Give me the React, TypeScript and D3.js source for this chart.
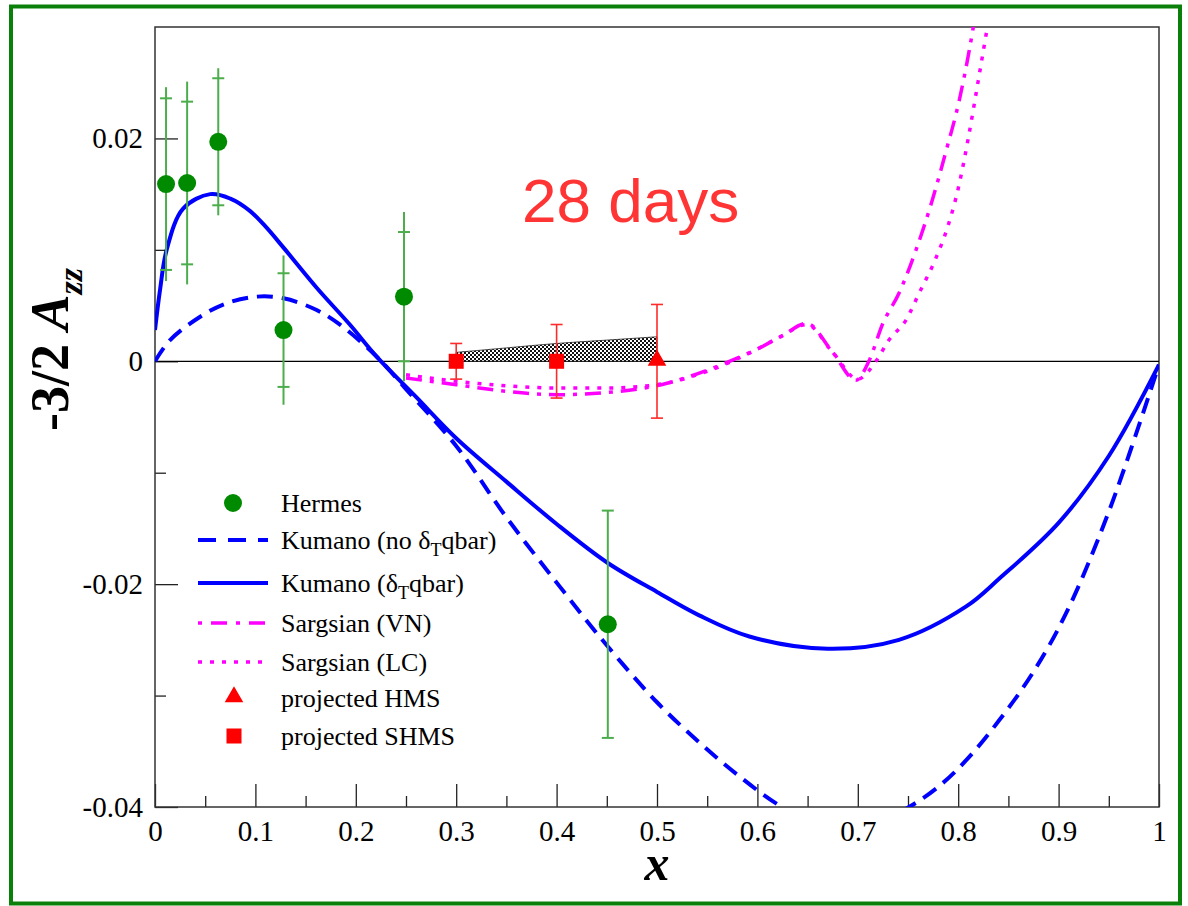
import React, { useEffect, useRef } from 'react'
import * as d3 from 'd3'

// Hermes data
const hermesX = [0.011, 0.032, 0.063, 0.128, 0.248, 0.451]
const hermesY = [0.0159, 0.016, 0.0197, 0.0028, 0.0058, -0.0236]
const hermesStat = [0.0077, 0.0073, 0.0057, 0.0051, 0.0058, 0.0102]
const hermesTot = [0.0087, 0.0091, 0.0066, 0.0067, 0.0076, 0.0102]

// projected points
const shmsX = [0.3, 0.4]
const shmsY = [0, 0]
const shmsErr = [0.0016, 0.0033]
const hmsX = [0.5]
const hmsY = [0]
const hmsErr = [0.0051]

// shaded band
const bandX = [0.3, 0.35, 0.4, 0.45, 0.5]
const bandTop = [0.0008, 0.0012, 0.0016, 0.0019, 0.0022]

// Kumano (delta_T qbar)
const kumX = [0, 0.005, 0.0116, 0.028, 0.055, 0.075, 0.0945, 0.11, 0.128, 0.161, 0.194, 0.221, 0.26, 0.3, 0.35, 0.4, 0.451, 0.5, 0.542, 0.592, 0.67, 0.741, 0.808, 0.841, 0.9, 0.95, 1.0]
const kumY = [0.0028, 0.0064, 0.01, 0.0137, 0.015, 0.0146, 0.0135, 0.0121, 0.0102, 0.0066, 0.0033, 0.0004, -0.0032, -0.0069, -0.0108, -0.0146, -0.0181, -0.0207, -0.0228, -0.0247, -0.0258, -0.025, -0.022, -0.0195, -0.0145, -0.0085, -0.0003]

// Kumano (no delta_T qbar)
const kumNoX = [0, 0.015, 0.045, 0.071, 0.101, 0.128, 0.161, 0.187, 0.221, 0.25, 0.3, 0.35, 0.403, 0.451, 0.5, 0.542, 0.58, 0.619, 0.65, 0.685, 0.72, 0.751, 0.78, 0.808, 0.841, 0.874, 0.907, 0.95, 1.0]
const kumNoY = [0, 0.0019, 0.004, 0.0052, 0.0058, 0.00565, 0.0046, 0.0031, 0.0004, -0.0025, -0.0076, -0.014, -0.0202, -0.0256, -0.0306, -0.0342, -0.0371, -0.0397, -0.0412, -0.042, -0.0414, -0.04, -0.0382, -0.0358, -0.0322, -0.028, -0.0227, -0.0135, -0.0003]

// Sargsian (VN)
const vnX = [0.25, 0.3, 0.35, 0.4, 0.45, 0.509, 0.55, 0.575, 0.6, 0.625, 0.649, 0.675, 0.698, 0.711, 0.725, 0.741, 0.758, 0.774, 0.788, 0.801, 0.811, 0.816]
const vnY = [-0.0015, -0.0021, -0.0027, -0.003, -0.0028, -0.002, -0.0008, 0.0001, 0.0011, 0.0023, 0.0034, 0.0008, -0.0017, 0, 0.0034, 0.0061, 0.01, 0.0144, 0.0189, 0.0234, 0.0279, 0.0305]

// Sargsian (LC)
const lcX = [0.25, 0.3, 0.35, 0.4, 0.45, 0.5, 0.55, 0.6, 0.625, 0.649, 0.675, 0.7, 0.718, 0.731, 0.748, 0.761, 0.778, 0.79, 0.8, 0.81, 0.82, 0.83]
const lcY = [-0.0012, -0.0018, -0.0022, -0.0024, -0.0024, -0.0021, -0.0009, 0.0011, 0.0023, 0.0033, 0.0008, -0.0016, 0, 0.0019, 0.0037, 0.0061, 0.0093, 0.0122, 0.0155, 0.02, 0.0252, 0.0305]

const xMajor = [0, 0.1, 0.2, 0.3, 0.4, 0.5, 0.6, 0.7, 0.8, 0.9, 1]
const xLabels = ['0', '0.1', '0.2', '0.3', '0.4', '0.5', '0.6', '0.7', '0.8', '0.9', '1']
const xMinor = [0.05, 0.15, 0.25, 0.35, 0.45, 0.55, 0.65, 0.75, 0.85, 0.95]
const yMajor = [-0.04, -0.02, 0, 0.02]
const yLabels = ['-0.04', '-0.02', '0', '0.02']
const yMinor = [-0.03, -0.01, 0.01]

const serif = "'Liberation Serif', 'Times New Roman', Times, serif"

export default function App() {
  const ref = useRef<SVGSVGElement>(null)

  useEffect(() => {
    const svg = d3.select(ref.current)
    svg.selectAll('*').remove()

    const left = 155, right = 1159, top = 27, bottom = 807
    const x = d3.scaleLinear().domain([0, 1]).range([left, right])
    const y = d3.scaleLinear().domain([-0.04, 0.03]).range([bottom, top])

    // outer green frame
    svg.append('rect')
      .attr('x', 11).attr('y', 6.5).attr('width', 1169).attr('height', 897)
      .attr('fill', 'white').attr('stroke', '#0a800a').attr('stroke-width', 4)

    const defs = svg.append('defs')
    defs.append('clipPath').attr('id', 'plotclip')
      .append('rect').attr('x', left).attr('y', top).attr('width', right - left).attr('height', bottom - top)
    const pat = defs.append('pattern').attr('id', 'checker')
      .attr('patternUnits', 'userSpaceOnUse').attr('width', 4).attr('height', 4)
    pat.append('rect').attr('width', 4).attr('height', 4).attr('fill', '#fff')
    pat.append('rect').attr('width', 2).attr('height', 2).attr('fill', '#111')
    pat.append('rect').attr('x', 2).attr('y', 2).attr('width', 2).attr('height', 2).attr('fill', '#111')

    // axes (ticks inward)
    const gx = svg.append('g').attr('transform', `translate(0,${bottom})`)
    gx.call(d3.axisBottom(x).tickValues(xMajor).tickSize(-23).tickPadding(13)
      .tickFormat((d, i) => xLabels[i]))
    const gxm = svg.append('g').attr('transform', `translate(0,${bottom})`)
    gxm.call(d3.axisBottom(x).tickValues(xMinor).tickSize(-11).tickFormat(() => ''))

    const gy = svg.append('g').attr('transform', `translate(${left},0)`)
    gy.call(d3.axisLeft(y).tickValues(yMajor).tickSize(-23).tickPadding(12)
      .tickFormat((d, i) => yLabels[i]))
    const gym = svg.append('g').attr('transform', `translate(${left},0)`)
    gym.call(d3.axisLeft(y).tickValues(yMinor).tickSize(-11).tickFormat(() => ''))

    svg.selectAll('.domain').remove()
    svg.selectAll('.tick line').attr('stroke', '#222').attr('stroke-width', 1.3)
    svg.selectAll('.tick text')
      .style('font-family', serif).style('font-size', '29px').attr('fill', '#000')

    // frame
    svg.append('rect')
      .attr('x', left).attr('y', top).attr('width', right - left).attr('height', bottom - top)
      .attr('fill', 'none').attr('stroke', '#333').attr('stroke-width', 1.5)

    // zero line
    svg.append('line')
      .attr('x1', left).attr('x2', right).attr('y1', y(0)).attr('y2', y(0))
      .attr('stroke', '#000').attr('stroke-width', 1.3)

    const plot = svg.append('g').attr('clip-path', 'url(#plotclip)')

    // shaded band
    const area = d3.area<number>()
      .x((d, i) => x(bandX[i])).y0(() => y(0)).y1((d) => y(d))
      .curve(d3.curveMonotoneX)
    plot.append('path').attr('d', area(bandTop))
      .attr('fill', 'url(#checker)').attr('stroke', '#222').attr('stroke-width', 0.8)

    const smooth = (xs: number[]) => d3.line<number>()
      .x((d, i) => x(xs[i])).y((d) => y(d)).curve(d3.curveCatmullRom.alpha(0.5))
    const kinked = (xs: number[]) => d3.line<number>()
      .x((d, i) => x(xs[i])).y((d) => y(d)).curve(d3.curveMonotoneX)

    plot.append('path').attr('d', smooth(kumNoX)(kumNoY))
      .attr('fill', 'none').attr('stroke', '#0000ff').attr('stroke-width', 4)
      .attr('stroke-dasharray', '16,9')
    plot.append('path').attr('d', smooth(kumX)(kumY))
      .attr('fill', 'none').attr('stroke', '#0000ff').attr('stroke-width', 4)
    plot.append('path').attr('d', kinked(lcX)(lcY))
      .attr('fill', 'none').attr('stroke', '#ff00ff').attr('stroke-width', 3.5)
      .attr('stroke-dasharray', '4,8')
    plot.append('path').attr('d', kinked(vnX)(vnY))
      .attr('fill', 'none').attr('stroke', '#ff00ff').attr('stroke-width', 3.5)
      .attr('stroke-dasharray', '16,8,4,8')

    // Hermes error bars and points
    const hg = plot.append('g')
    hermesX.forEach((hx, i) => {
      const px = x(hx)
      hg.append('line').attr('x1', px).attr('x2', px)
        .attr('y1', y(hermesY[i] + hermesTot[i])).attr('y2', y(hermesY[i] - hermesTot[i]))
        .attr('stroke', '#4cad4c').attr('stroke-width', 2)
      ;[1, -1].forEach((s) => {
        hg.append('line').attr('x1', px - 6).attr('x2', px + 6)
          .attr('y1', y(hermesY[i] + s * hermesStat[i])).attr('y2', y(hermesY[i] + s * hermesStat[i]))
          .attr('stroke', '#4cad4c').attr('stroke-width', 2)
      })
    })
    hg.selectAll('circle').data(hermesY).enter().append('circle')
      .attr('cx', (d, i) => x(hermesX[i])).attr('cy', (d) => y(d)).attr('r', 9)
      .attr('fill', '#008a00')

    // projected error bars
    const pg = plot.append('g')
    const errBar = (px: number, py: number, e: number) => {
      pg.append('line').attr('x1', x(px)).attr('x2', x(px)).attr('y1', y(py + e)).attr('y2', y(py - e))
        .attr('stroke', '#ff2a2a').attr('stroke-width', 1.6)
      ;[1, -1].forEach((s) => {
        pg.append('line').attr('x1', x(px) - 6).attr('x2', x(px) + 6)
          .attr('y1', y(py + s * e)).attr('y2', y(py + s * e))
          .attr('stroke', '#ff2a2a').attr('stroke-width', 1.6)
      })
    }
    shmsX.forEach((sx, i) => errBar(sx, shmsY[i], shmsErr[i]))
    hmsX.forEach((hx, i) => errBar(hx, hmsY[i], hmsErr[i]))
    pg.selectAll('rect.shms').data(shmsY).enter().append('rect')
      .attr('x', (d, i) => x(shmsX[i]) - 7.5).attr('y', (d) => y(d) - 7.5)
      .attr('width', 15).attr('height', 15).attr('fill', '#ff0000')
    const tri = d3.symbol().type(d3.symbolTriangle).size(150)
    pg.selectAll('path.hms').data(hmsY).enter().append('path')
      .attr('d', tri()).attr('transform', (d, i) => `translate(${x(hmsX[i])},${y(d) - 1})`)
      .attr('fill', '#ff0000')

    // 28 days
    svg.append('text').attr('x', 522).attr('y', 222)
      .style('font-family', "'Liberation Sans', Arial, sans-serif").style('font-size', '62px')
      .attr('fill', '#ff3535').text('28 days')

    // axis titles
    const yt = svg.append('text').attr('transform', 'translate(68,431) rotate(-90)')
      .style('font-family', serif).style('font-weight', 'bold').style('font-size', '54px').attr('fill', '#000')
    yt.append('tspan').text('-3/2 ')
    yt.append('tspan').style('font-style', 'italic').text('A')
    yt.append('tspan').style('font-style', 'italic').style('font-size', '34px').attr('dy', 14).text('zz')

    svg.append('text').attr('x', 657).attr('y', 880).attr('text-anchor', 'middle')
      .style('font-family', serif).style('font-weight', 'bold').style('font-style', 'italic')
      .style('font-size', '50px').attr('fill', '#000').text('x')

    // legend
    const lg = svg.append('g')
    const lx0 = 198, lx1 = 268, tx = 281
    const rowY = [503, 540, 583, 623, 662, 698, 736]
    lg.append('circle').attr('cx', 233).attr('cy', rowY[0]).attr('r', 9).attr('fill', '#008a00')
    const legLine = (ry: number, color: string, w: number, dash: string | null) => {
      const l = lg.append('line').attr('x1', lx0).attr('x2', lx1).attr('y1', ry).attr('y2', ry)
        .attr('stroke', color).attr('stroke-width', w)
      if (dash) l.attr('stroke-dasharray', dash)
    }
    legLine(rowY[1], '#0000ff', 4, '18,12')
    legLine(rowY[2], '#0000ff', 4, null)
    legLine(rowY[3], '#ff00ff', 3.5, '4,9,16,9')
    legLine(rowY[4], '#ff00ff', 3.5, '4,8')
    lg.append('path').attr('d', tri()).attr('transform', `translate(234,${rowY[5] - 1})`).attr('fill', '#ff0000')
    lg.append('rect').attr('x', 226.5).attr('y', rowY[6] - 7.5).attr('width', 15).attr('height', 15).attr('fill', '#ff0000')

    const legText = (ry: number) => lg.append('text').attr('x', tx).attr('y', ry + 9)
      .style('font-family', serif).style('font-size', '26px').attr('fill', '#000')
    legText(rowY[0]).text('Hermes')
    const t1 = legText(rowY[1])
    t1.append('tspan').text('Kumano (no δ')
    t1.append('tspan').style('font-size', '18px').attr('dy', 7).text('T')
    t1.append('tspan').attr('dy', -7).text('qbar)')
    const t2 = legText(rowY[2])
    t2.append('tspan').text('Kumano (δ')
    t2.append('tspan').style('font-size', '18px').attr('dy', 7).text('T')
    t2.append('tspan').attr('dy', -7).text('qbar)')
    legText(rowY[3]).text('Sargsian (VN)')
    legText(rowY[4]).text('Sargsian (LC)')
    legText(rowY[5]).text('projected HMS')
    legText(rowY[6]).text('projected SHMS')
  }, [])

  return (
    <svg ref={ref} width={1188} height={906}
      style={{ position: 'absolute', left: 0, top: 0, background: '#fff' }} />
  )
}
